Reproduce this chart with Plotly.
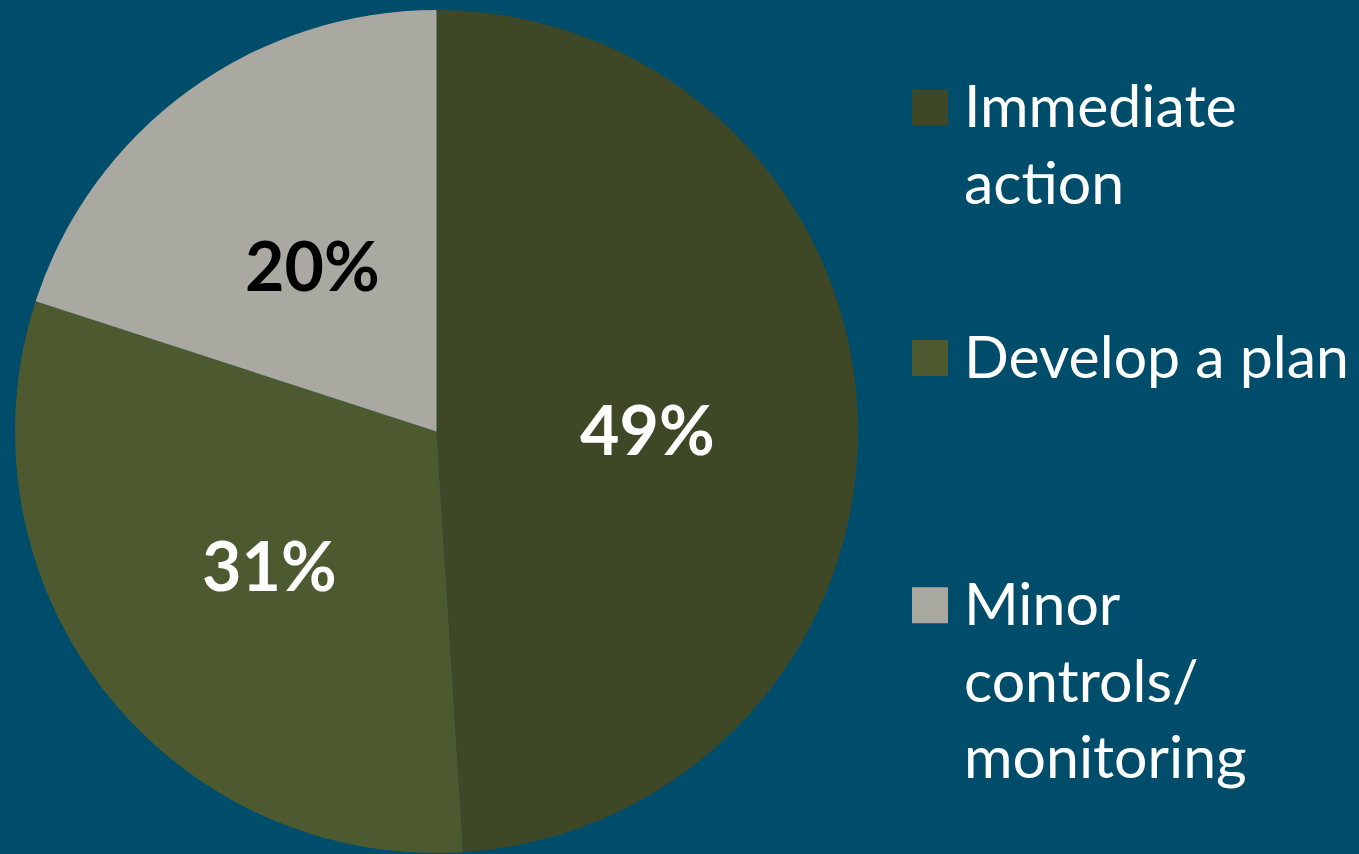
import math
import plotly.graph_objects as go

# data
labels = ["Immediate action", "Develop a plan", "Minor controls/ monitoring"]
legend_lines = [["Immediate", "action"], ["Develop a plan"], ["Minor", "controls/", "monitoring"]]
values = [49, 31, 20]
colors = ["#3E4827", "#4D5A30", "#A9A9A1"]
text_colors = ["white", "white", "black"]

BG = "#004D6B"
W, H = 1359, 854

# pie placement (pixels)
cx, cy, R = 436.5, 431.5, 421.5

fig = go.Figure()
fig.add_trace(go.Pie(
    labels=labels,
    values=values,
    sort=False,
    direction="clockwise",
    rotation=0,
    marker=dict(colors=colors, line=dict(width=0)),
    textinfo="none",
    domain=dict(x=[(cx - R) / W, (cx + R) / W], y=[1 - (cy + R) / H, 1 - (cy - R) / H]),
    showlegend=False,
    hoverinfo="label+percent",
))

# percentage labels at half radius along each slice's middle angle (like the original)
total = sum(values)
cum = 0
for v, tc in zip(values, text_colors):
    mid = (cum + v / 2) / total * 2 * math.pi
    cum += v
    px = cx + 0.5 * R * math.sin(mid)
    py = cy - 0.5 * R * math.cos(mid)
    fig.add_annotation(xref="paper", yref="paper", x=px / W, y=1 - (py + 4) / H,
                       xanchor="center", yanchor="middle", showarrow=False,
                       text=f"{round(v / total * 100)}%",
                       font=dict(family="Lato", size=68, color=tc, weight="bold"))

# legend drawn by hand, large squares like the original
legend_y = [143, 355, 679]
for lines, col, yc in zip(legend_lines, colors, legend_y):
    first = yc - (len(lines) - 1) * 38.35
    fig.add_shape(type="rect", xref="paper", yref="paper",
                  x0=912 / W, x1=948 / W,
                  y0=1 - (first - 18 + 3) / H, y1=1 - (first + 18 + 3) / H,
                  fillcolor=col, line=dict(width=0))
    fig.add_annotation(xref="paper", yref="paper", x=962 / W, y=1 - yc / H,
                       xanchor="left", yanchor="middle", align="left",
                       text="<br>".join(lines), showarrow=False,
                       font=dict(family="Lato", size=59, color="white"))

fig.update_layout(
    width=W, height=H,
    margin=dict(l=0, r=0, t=0, b=0),
    paper_bgcolor=BG, plot_bgcolor=BG,
)

fig.write_html("out.html", config={"displayModeBar": False},
               post_script="document.body.style.margin='0';document.body.style.background='" + BG + "';")
